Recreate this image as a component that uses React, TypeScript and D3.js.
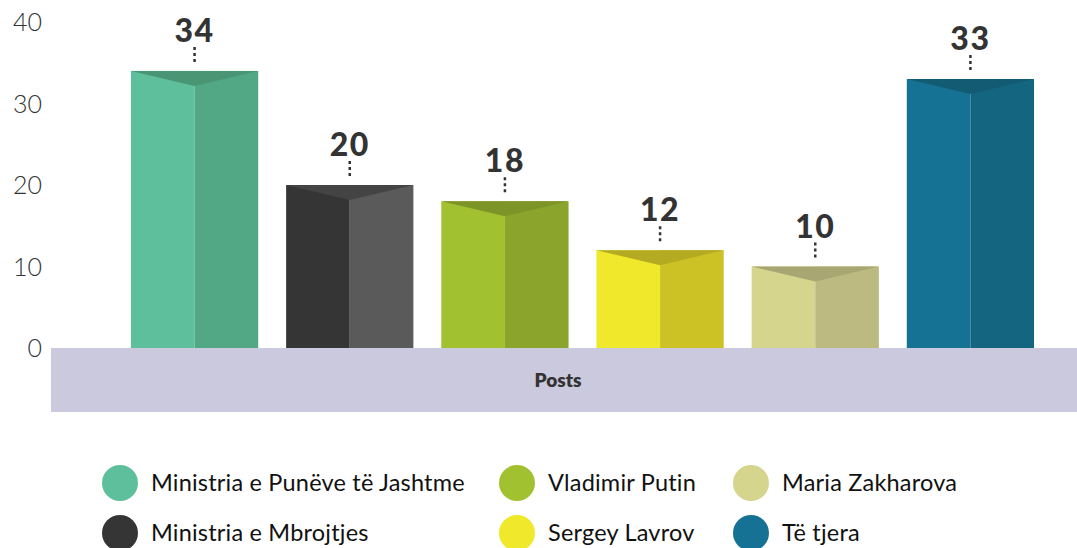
import React from 'react';
import * as d3 from 'd3';

const categories = ['Ministria e Punëve të Jashtme', 'Ministria e Mbrojtjes', 'Vladimir Putin', 'Sergey Lavrov', 'Maria Zakharova', 'Të tjera'];
const values = [34, 20, 18, 12, 10, 33];
const leftColors = ['#5dbf9b', '#353535', '#a2c130', '#f0e82a', '#d6d58e', '#167295'];
const rightColors = ['#52a885', '#5a5a5a', '#8ba42c', '#cdc225', '#bcba80', '#146680'];
const topColors = ['#4a9674', '#444444', '#7d9428', '#b5ab22', '#a8a672', '#125b73'];
const yTicks = [0, 10, 20, 30, 40];
const axisLabel = 'Posts';

const width = 1077;
const height = 548;

const App = () => {
    const x = d3.scaleBand<string>().domain(categories).range([117, 1048]).paddingInner(0.18).paddingOuter(0.09);
    const y = d3.scaleLinear().domain([0, 40]).range([348, 22]);
    const bw = x.bandwidth();

    // legend laid out in 3 columns, 2 rows
    const legendCols = [120, 517, 751];
    const legendRows = [483, 533];

    return (
        <svg width={width} height={height} style={{ position: 'absolute', left: 0, top: 0 }} fontFamily="Lato, 'Open Sans', sans-serif">
            <rect x={0} y={0} width={width} height={height} fill="#ffffff" />
            {yTicks.map(t => (
                <text key={t} x={42} y={y(t) + 9} textAnchor="end" fontSize={25} fill="#333" fontWeight={300}>{t}</text>
            ))}
            <rect x={51} y={y(0)} width={width - 51} height={64} fill="#cbc9de" />
            <text x={558} y={387} textAnchor="middle" fontSize={19} fontWeight={800} fill="#333">{axisLabel}</text>
            {categories.map((c, i) => {
                const x0 = x(c) as number;
                const x1 = x0 + bw;
                const xm = x0 + bw / 2;
                const top = y(values[i]);
                const base = y(0);
                const tri = `M${x0},${top}L${x1},${top}L${xm},${top + 15}Z`;
                return (
                    <g key={c}>
                        <rect x={x0} y={top} width={bw / 2} height={base - top} fill={leftColors[i]} />
                        <rect x={xm} y={top} width={bw / 2} height={base - top} fill={rightColors[i]} />
                        <path d={tri} fill={topColors[i]} />
                        <line x1={xm} x2={xm} y1={top - 24} y2={top - 7} stroke="#333" strokeWidth={2.5} strokeDasharray="3,3" />
                        <text x={xm} y={top - 29} textAnchor="middle" fontSize={32} fontWeight={900} fill="#333" letterSpacing={1.5}>{values[i]}</text>
                    </g>
                );
            })}
            {categories.map((c, i) => {
                const col = Math.floor(i / 2);
                const row = i % 2;
                const cx = legendCols[col];
                const cy = legendRows[row];
                return (
                    <g key={'lg' + c}>
                        <circle cx={cx} cy={cy} r={18} fill={leftColors[i]} />
                        <text x={cx + 31} y={cy + 8} fontSize={23.5} letterSpacing={0.2} fill="#111">{c}</text>
                    </g>
                );
            })}
        </svg>
    );
};

export default App;
